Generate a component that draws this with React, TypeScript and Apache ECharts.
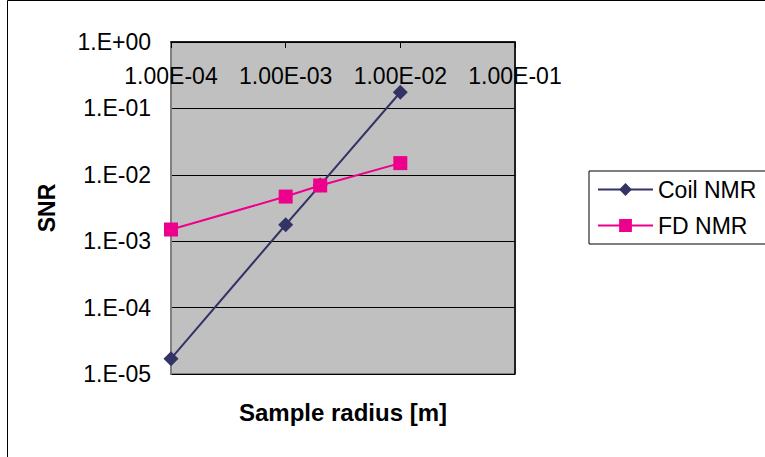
import React, { useEffect, useRef } from "react";
import * as echarts from "echarts";

const radius = [1e-4, 1e-3, 2e-3, 1e-2];
const coilNMR = [1.7e-5, 1.77e-3, 7.0e-3, 0.175];
const fdNMR = [1.5e-3, 4.7e-3, 6.9e-3, 1.5e-2];
const seriesNames = ["Coil NMR", "FD NMR"];
const xTitle = "Sample radius [m]";
const yTitle = "SNR";

const FONT = "'Liberation Sans', Arial, sans-serif";

function expStr(v: number) {
  const e = Math.round(Math.log10(v));
  return (e < 0 ? "-" : "+") + String(Math.abs(e)).padStart(2, "0");
}

export default function App() {
  const ref = useRef<HTMLDivElement>(null);
  useEffect(() => {
    if (!ref.current) return;
    const chart = echarts.init(ref.current, undefined, { renderer: "svg" });
    const gl = 171, gt = 42, gw = 344, gh = 332;
    chart.setOption({
      animation: false,
      backgroundColor: "#ffffff",
      textStyle: { fontFamily: FONT },
      grid: {
        left: gl, top: gt, width: gw, height: gh,
        show: true, backgroundColor: "#C0C0C0", borderColor: "#808080", borderWidth: 2,
      },
      legend: {
        orient: "vertical",
        left: 589, top: 171,
        padding: [7, 20, 7, 8],
        itemGap: 13,
        itemWidth: 55, itemHeight: 16,
        borderColor: "#000", borderWidth: 1,
        textStyle: { fontSize: 23, color: "#000", fontFamily: FONT },
        data: seriesNames,
      },
      xAxis: {
        type: "log", logBase: 10, min: 1e-4, max: 1e-1,
        position: "top",
        splitNumber: 3,
        axisLine: { show: true, lineStyle: { color: "#000", width: 1.5 } },
        axisTick: { show: true, inside: true, length: 6, lineStyle: { color: "#000" } },
        axisLabel: {
          inside: true, margin: 22, fontSize: 23, color: "#000", fontFamily: FONT,
          showMinLabel: true, showMaxLabel: true,
          formatter: (v: number) => "1.00E" + expStr(v),
        },
        splitLine: { show: false },
      },
      yAxis: {
        type: "log", logBase: 10, min: 1e-5, max: 1,
        splitNumber: 5,
        name: yTitle, nameLocation: "middle", nameGap: 113,
        nameTextStyle: { fontSize: 23, fontWeight: "bold", color: "#000", fontFamily: FONT },
        axisLine: { show: true, lineStyle: { color: "#808080", width: 2 } },
        axisTick: { show: false },
        axisLabel: {
          margin: 20, fontSize: 23, color: "#000", fontFamily: FONT,
          formatter: (v: number) => "1.E" + expStr(v),
        },
        splitLine: { show: true, lineStyle: { color: "#000", width: 1 } },
      },
      graphic: [
        { type: "rect", shape: { x: 7.5, y: 0.5, width: 800, height: 500 }, style: { fill: "none", stroke: "#000", lineWidth: 1 }, silent: true },
        { type: "line", shape: { x1: gl + gw, y1: gt, x2: gl + gw, y2: gt + gh }, style: { stroke: "#000", lineWidth: 1.5 }, z: 10 },
        { type: "text", x: gl + gw / 2, y: 412, style: { text: xTitle, fontSize: 24, fontWeight: "bold", fill: "#000", fontFamily: FONT, align: "center", verticalAlign: "middle" } },
      ],
      series: [
        {
          name: seriesNames[0], type: "line",
          data: radius.map((r, i) => [r, coilNMR[i]]),
          symbol: "diamond", symbolSize: 15,
          itemStyle: { color: "#333366" },
          lineStyle: { color: "#333366", width: 2 },
        },
        {
          name: seriesNames[1], type: "line",
          data: radius.map((r, i) => [r, fdNMR[i]]),
          symbol: "rect", symbolSize: 14,
          itemStyle: { color: "#EC008C" },
          lineStyle: { color: "#EC008C", width: 2 },
        },
      ],
    });
    return () => chart.dispose();
  }, []);
  return <div ref={ref} style={{ position: "absolute", left: 0, top: 0, width: 765, height: 457 }} />;
}
